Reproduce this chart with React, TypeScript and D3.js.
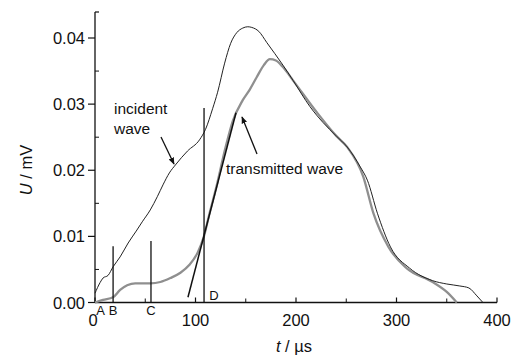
import React from "react";
import * as d3 from "d3";

// incident wave: [t (µs), U (mV)]
const incidentT = [0, 5, 8, 13, 18, 25, 33, 41, 47, 55, 62, 68, 74, 80, 92, 104, 110, 117, 122, 129, 135, 141, 147, 152, 156, 163, 171, 187, 197, 214, 227, 240, 251, 264, 271, 281, 294, 313, 336, 350, 363, 372, 380, 386];
const incidentU = [0.0014, 0.003, 0.0037, 0.0041, 0.0054, 0.0069, 0.009, 0.0108, 0.0122, 0.014, 0.016, 0.0179, 0.0196, 0.0208, 0.0229, 0.0246, 0.0262, 0.0293, 0.0318, 0.0362, 0.0392, 0.0408, 0.0415, 0.0417, 0.0416, 0.041, 0.0393, 0.0359, 0.0336, 0.0296, 0.0272, 0.0252, 0.0235, 0.0205, 0.0185, 0.0135, 0.0084, 0.0052, 0.0033, 0.0028, 0.0025, 0.0022, 0.001, 0.0];

// transmitted wave
const transT = [0, 8, 18, 25, 32, 40, 55, 65, 75, 85, 94, 102, 108, 114, 120, 130, 137, 147, 154, 161, 168, 174, 180, 187, 197, 221, 240, 251, 267, 277, 292, 310, 336, 350, 360];
const transU = [0.0, 0.0004, 0.0008, 0.0019, 0.0026, 0.0029, 0.0029, 0.0031, 0.0037, 0.0045, 0.0057, 0.0075, 0.0098, 0.0135, 0.017, 0.0235, 0.0274, 0.0306, 0.0322, 0.0341, 0.0359, 0.0368, 0.0366, 0.0356, 0.0336, 0.0287, 0.0252, 0.0235, 0.019, 0.0135, 0.0084, 0.0052, 0.0031, 0.0016, 0.0];

// marker lines
const markerNames = ["B", "C", "D"];
const markerT = [18, 55.7, 108.5];
const markerTop = [0.0085, 0.0093, 0.0294];

// tangent line
const tangentT = [92.5, 140.3];
const tangentU = [0.0008, 0.0287];

const xTicks = [0, 100, 200, 300, 400];
const xMinor = [50, 150, 250, 350];
const yTicks = [0, 0.01, 0.02, 0.03, 0.04];
const yTickLabels = ["0.00", "0.01", "0.02", "0.03", "0.04"];
const yMinor = [0.005, 0.015, 0.025, 0.035];

export default function App() {
  const W = 512, H = 357;
  const x = d3.scaleLinear().domain([0, 400]).range([95, 497]);
  const y = d3.scaleLinear().domain([0, 0.04]).range([302.5, 38]);
  const line = d3
    .line<[number, number]>()
    .x((d) => x(d[0]))
    .y((d) => y(d[1]))
    .curve(d3.curveMonotoneX);
  const inc = incidentT.map((t, i) => [t, incidentU[i]] as [number, number]);
  const tr = transT.map((t, i) => [t, transU[i]] as [number, number]);
  const font = "'Liberation Sans', Arial, sans-serif";
  const tc = "#111";
  return (
    <svg
      width={W}
      height={H}
      style={{ position: "absolute", left: 0, top: 0, background: "#fff" }}
      fontFamily={font}
    >
      <defs>
        <marker id="ah" viewBox="0 0 10 10" refX="9" refY="5" markerWidth="7" markerHeight="7" orient="auto" markerUnits="userSpaceOnUse">
          <path d="M0,1 L10,5 L0,9 z" fill="#111" />
        </marker>
      </defs>
      {/* axes */}
      <line x1={x(0)} x2={x(0)} y1={y(0)} y2={12} stroke="#111" strokeWidth={1.3} />
      <line x1={x(0)} x2={x(0) + 4} y1={12} y2={12} stroke="#111" strokeWidth={1.2} />
      <line x1={x(0)} x2={x(400)} y1={y(0)} y2={y(0)} stroke="#111" strokeWidth={1.3} />
      {yTicks.map((v, i) => (
        <g key={"yt" + i}>
          <line x1={x(0) - 7} x2={x(0)} y1={y(v)} y2={y(v)} stroke="#111" strokeWidth={1.2} />
          <text x={x(0) - 10} y={y(v)} dy="0.37em" textAnchor="end" fontSize={16.5} fill={tc}>
            {yTickLabels[i]}
          </text>
        </g>
      ))}
      {yMinor.map((v, i) => (
        <line key={"ym" + i} x1={x(0)} x2={x(0) + 4} y1={y(v)} y2={y(v)} stroke="#111" strokeWidth={1} />
      ))}
      {xTicks.map((v, i) => (
        <g key={"xt" + i}>
          <line x1={x(v)} x2={x(v)} y1={y(0)} y2={y(0) - 5} stroke="#111" strokeWidth={1.2} />
          <text x={v === 0 ? x(v) - 2 : x(v)} y={326} textAnchor="middle" fontSize={16.5} fill={tc}>
            {String(v)}
          </text>
        </g>
      ))}
      {xMinor.map((v, i) => (
        <line key={"xm" + i} x1={x(v)} x2={x(v)} y1={y(0)} y2={y(0) - 4} stroke="#111" strokeWidth={1} />
      ))}
      {/* axis titles */}
      <text x={294} y={352} textAnchor="middle" fontSize={16.5} fill={tc}>
        <tspan fontStyle="italic">t</tspan> / µs
      </text>
      <text transform="translate(32,170) rotate(-90)" textAnchor="middle" fontSize={16.5} fill={tc}>
        <tspan fontStyle="italic">U</tspan> / mV
      </text>
      {/* curves */}
      <path d={line(tr) || ""} fill="none" stroke="#8f8f8f" strokeWidth={2.3} />
      <path d={line(inc) || ""} fill="none" stroke="#222" strokeWidth={1} />
      {/* marker lines */}
      {markerT.map((t, i) => (
        <line key={"mk" + i} x1={x(t)} x2={x(t)} y1={y(0)} y2={y(markerTop[i])} stroke="#111" strokeWidth={1.3} />
      ))}
      <line x1={x(tangentT[0])} y1={y(tangentU[0])} x2={x(tangentT[1])} y2={y(tangentU[1])} stroke="#111" strokeWidth={1.5} />
      {/* letters */}
      <text x={100.5} y={315} textAnchor="middle" fontSize={13} fill={tc}>A</text>
      <text x={x(markerT[0])} y={315} textAnchor="middle" fontSize={13} fill={tc}>{markerNames[0]}</text>
      <text x={x(markerT[1])} y={315} textAnchor="middle" fontSize={13} fill={tc}>{markerNames[1]}</text>
      <text x={x(markerT[2]) + 10} y={300} textAnchor="middle" fontSize={13} fill={tc}>{markerNames[2]}</text>
      {/* annotations */}
      <text x={114} y={114} fontSize={15.5} fill={tc}>incident</text>
      <text x={114} y={134} fontSize={15.5} fill={tc}>wave</text>
      <text x={226} y={174} fontSize={15.5} fill={tc}>transmitted wave</text>
      <line x1={161} y1={137} x2={174} y2={164} stroke="#111" strokeWidth={1.3} markerEnd="url(#ah)" />
      <line x1={257} y1={154} x2={242} y2={117} stroke="#111" strokeWidth={1.3} markerEnd="url(#ah)" />
    </svg>
  );
}
